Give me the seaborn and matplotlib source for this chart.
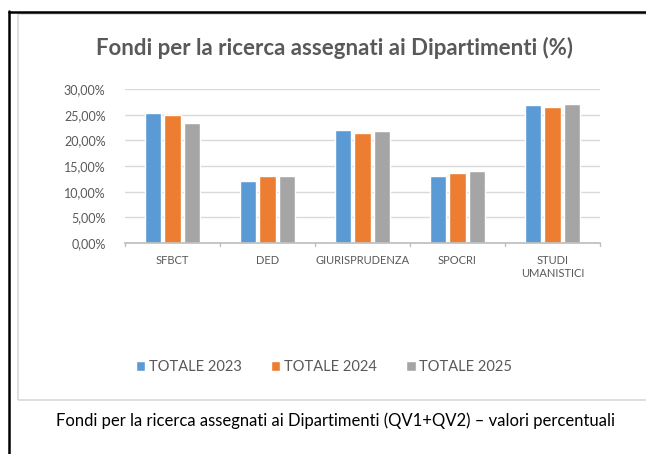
import pandas as pd
import numpy as np
import matplotlib.pyplot as plt
from matplotlib.lines import Line2D
from matplotlib.patches import Rectangle
from matplotlib.ticker import FuncFormatter, MultipleLocator
import seaborn as sns

# data (share of funds, fractions)
dipartimenti = ["SFBCT", "DED", "GIURISPRUDENZA", "SPOCRI", "STUDI\nUMANISTICI"]
tot_2023 = [0.253, 0.121, 0.220, 0.131, 0.268]
tot_2024 = [0.249, 0.131, 0.214, 0.136, 0.264]
tot_2025 = [0.233, 0.131, 0.219, 0.140, 0.271]
serie = ["TOTALE 2023", "TOTALE 2024", "TOTALE 2025"]
colori = ["#5B9BD5", "#ED7D31", "#A5A5A5"]

df = pd.DataFrame({
    "dip": dipartimenti * 3,
    "serie": np.repeat(serie, len(dipartimenti)),
    "valore": tot_2023 + tot_2024 + tot_2025,
})

sns.set_theme(style="white")
plt.rcParams['font.family'] = ['Lato', 'DejaVu Sans']
txt = "#595959"

fig = plt.figure(figsize=(6.46, 4.54), dpi=100)
W, H = 646, 454

# outer frame: black lines left/top, light grey chart box
fig.add_artist(Line2D([9 / W, 9 / W], [0, 1 - 11 / H], color="black", lw=1.8))
fig.add_artist(Line2D([9 / W, 1], [1 - 11.5 / H, 1 - 11.5 / H], color="black", lw=1.8))
fig.add_artist(Rectangle((18 / W, 1 - 400 / H), 1, (400 - 14) / H, fill=False,
                         edgecolor="#D9D9D9", lw=1.2))

ax = fig.add_axes([125 / W, 1 - 243 / H, (600 - 125) / W, (243 - 89) / H])
sns.barplot(data=df, x="dip", y="valore", hue="serie", palette=colori,
            width=0.62, gap=0.16, ax=ax, saturation=1, legend=True)

ax.set_ylim(0, 0.30)
ax.yaxis.set_major_locator(MultipleLocator(0.05))
ax.yaxis.set_major_formatter(FuncFormatter(lambda v, p: f"{v*100:.2f}%".replace(".", ",")))
ax.grid(axis="y", color="#D9D9D9", lw=1)
ax.set_axisbelow(True)
for s in ["top", "right", "left"]:
    ax.spines[s].set_visible(False)
ax.spines["bottom"].set_color("#BFBFBF")
ax.set_xlabel("")
ax.set_ylabel("")
ax.tick_params(axis="y", length=0, labelsize=9, labelcolor=txt, pad=14)
ax.tick_params(axis="x", length=0, labelsize=8, labelcolor=txt, pad=9)
ax.set_xlim(-0.5, 4.5)
for xb in np.arange(-0.5, 5.0, 1.0):
    ax.plot([xb, xb], [0, -0.006], color="#BFBFBF", lw=1, clip_on=False)

leg = ax.legend(loc="center", bbox_to_anchor=(324 / W, 1 - 367 / H),
                bbox_transform=fig.transFigure, ncol=3, frameon=False,
                fontsize=10.5, handlelength=0.65, handleheight=0.65,
                handletextpad=0.25, columnspacing=2.0)
for t in leg.get_texts():
    t.set_color(txt)

fig.text(335 / W, 1 - 48 / H, "Fondi per la ricerca assegnati ai Dipartimenti (%)",
         ha="center", va="center", fontsize=16, fontweight="bold", color=txt)
fig.text(335 / W, 1 - 421 / H,
         "Fondi per la ricerca assegnati ai Dipartimenti (QV1+QV2) \u2013 valori percentuali",
         ha="center", va="center", fontsize=12, color="black")

fig.savefig("out.png", dpi=100)
